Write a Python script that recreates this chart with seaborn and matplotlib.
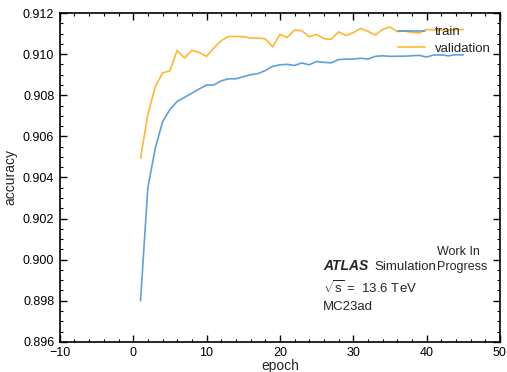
import numpy as np
import pandas as pd
import matplotlib
matplotlib.use("Agg")
import matplotlib.pyplot as plt
import seaborn as sns
from matplotlib.ticker import MultipleLocator, AutoMinorLocator

epochs = list(range(1, 46))
train_acc = [0.8980, 0.9035, 0.9054, 0.9067, 0.9073, 0.9077, 0.9079, 0.9081, 0.9083, 0.9085,
             0.9085, 0.9087, 0.9088, 0.9088, 0.9089, 0.9090, 0.90905, 0.9092, 0.9094, 0.90948,
             0.9095, 0.90945, 0.90957, 0.90948, 0.90964, 0.9096, 0.90958, 0.90973, 0.90976, 0.90976,
             0.9098, 0.90976, 0.90989, 0.90992, 0.90989, 0.9099, 0.9099, 0.90992, 0.90994, 0.90986,
             0.90996, 0.90996, 0.90992, 0.90997, 0.90996]
val_acc = [0.90494, 0.90705, 0.9084, 0.90908, 0.90919, 0.91018, 0.90981, 0.91018, 0.91008, 0.90989,
           0.9103, 0.91065, 0.91086, 0.91086, 0.91085, 0.91078, 0.91078, 0.91075, 0.91035, 0.91096,
           0.91081, 0.91117, 0.91114, 0.91085, 0.91096, 0.91075, 0.91072, 0.91108, 0.91091, 0.91104,
           0.91125, 0.91111, 0.91093, 0.9112, 0.91132, 0.9111, 0.91112, 0.91106, 0.91103, 0.9112,
           0.91118, 0.91117, 0.91118, 0.91119, 0.9112]
series_names = ["train", "validation"]
colors = ["#3f90da", "#ffa90e"]

df = pd.DataFrame({
    "epoch": epochs * 2,
    "accuracy": train_acc + val_acc,
    "series": [series_names[0]] * len(epochs) + [series_names[1]] * len(epochs),
})

sns.set_style("ticks")
plt.rcParams["font.family"] = ["Liberation Sans", "DejaVu Sans"]
plt.rcParams["mathtext.fontset"] = "custom"
plt.rcParams["mathtext.rm"] = "Liberation Sans"
plt.rcParams["mathtext.it"] = "Liberation Sans"

fig = plt.figure(figsize=(5.07, 3.72), dpi=100)
ax = fig.add_axes([0.118, 0.081, 0.868, 0.884])

sns.lineplot(data=df, x="epoch", y="accuracy", hue="series",
             palette=dict(zip(series_names, colors)), linewidth=1.2, alpha=0.85, ax=ax)

ax.set_xlim(-10, 50)
ax.set_ylim(0.896, 0.912)
ax.xaxis.set_major_locator(MultipleLocator(10))
ax.xaxis.set_minor_locator(AutoMinorLocator(5))
ax.yaxis.set_major_locator(MultipleLocator(0.002))
ax.yaxis.set_minor_locator(AutoMinorLocator(4))
ax.tick_params(which="both", direction="in", top=True, right=True, labelsize=9, colors="black")
ax.tick_params(which="major", length=5, width=1, pad=4)
ax.tick_params(which="minor", length=2.5, width=0.8)
for s in ax.spines.values():
    s.set_linewidth(1.2)
    s.set_color("black")
ax.set_xlabel("epoch", fontsize=10, labelpad=0)
ax.set_ylabel("accuracy", fontsize=10, labelpad=4)

leg = ax.legend(loc="upper left", frameon=False, fontsize=9.5,
                bbox_to_anchor=(0.768, 0.96), borderaxespad=0, borderpad=0,
                handlelength=2.05, handletextpad=0.76, labelspacing=0.32)

# ATLAS label
ax.text(0.598, 0.22, "ATLAS", transform=ax.transAxes, fontsize=10,
        fontweight="bold", fontstyle="italic", ha="left", va="baseline")
ax.text(0.714, 0.22, "Simulation", transform=ax.transAxes, fontsize=9.5,
        ha="left", va="baseline")
ax.text(0.857, 0.22, "Work In\nProgress", transform=ax.transAxes, fontsize=9,
        ha="left", va="baseline", linespacing=1.3)
ax.text(0.598, 0.149, r"$\sqrt{\mathrm{s}}$ =  13.6 TeV", transform=ax.transAxes, fontsize=9.5,
        ha="left", va="baseline")
ax.text(0.598, 0.097, "MC23ad", transform=ax.transAxes, fontsize=9.5,
        ha="left", va="baseline")

fig.savefig("out.png", dpi=100)
